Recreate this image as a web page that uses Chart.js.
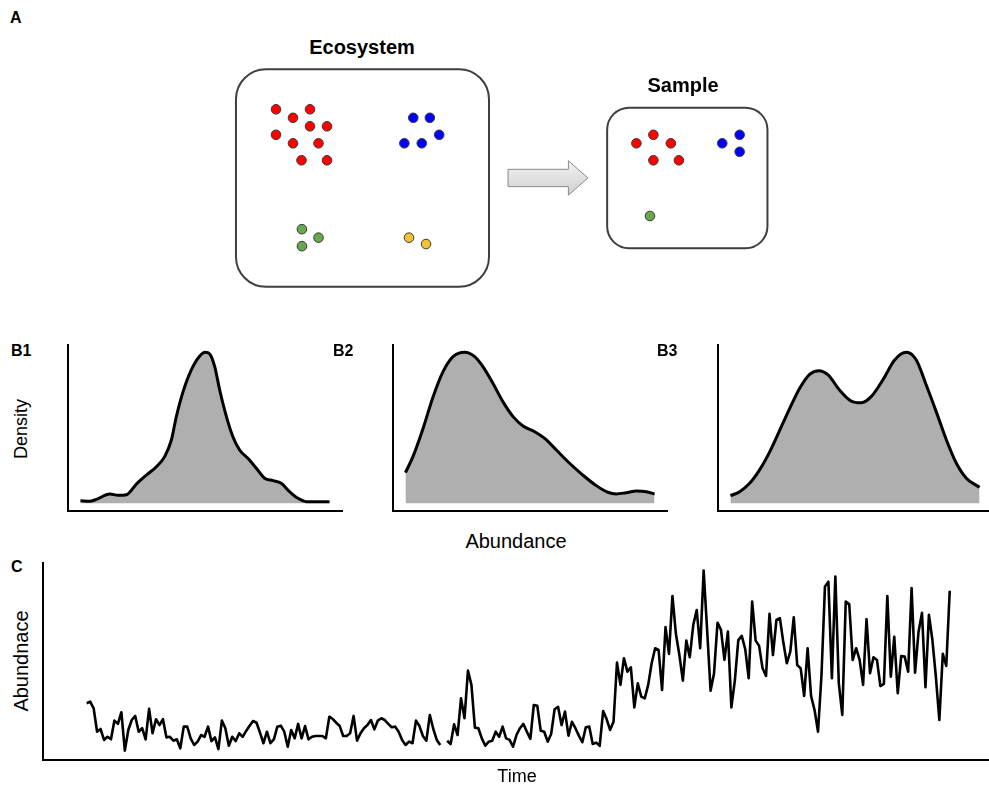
<!DOCTYPE html>
<html>
<head>
<meta charset="utf-8">
<script src="https://cdn.jsdelivr.net/npm/chart.js@4.4.1/dist/chart.umd.min.js"></script>
<style>
  html, body { margin: 0; padding: 0; background: #fff; overflow: hidden; }
  #fig { position: relative; width: 989px; height: 789px; font-family: "Liberation Sans", Arial, sans-serif; color: #000; }
  canvas { position: absolute; }
  .t { position: absolute; line-height: 1; white-space: nowrap; }
  .b { font-weight: bold; }
  .c { transform: translate(-50%, -50%); }
  .r { transform: translate(-50%, -50%) rotate(-90deg); }
</style>
</head>
<body>
<div id="fig">
  <canvas id="cA"  width="553" height="247" style="left:225px;top:58px"></canvas>
  <canvas id="cB1" width="294" height="186" style="left:58px;top:335px"></canvas>
  <canvas id="cB2" width="294" height="186" style="left:383px;top:335px"></canvas>
  <canvas id="cB3" width="294" height="186" style="left:708px;top:335px"></canvas>
  <canvas id="cC"  width="966" height="217" style="left:33px;top:553px"></canvas>

  <div class="t b" style="left:10px;top:10px;font-size:16px">A</div>
  <div class="t b c" style="left:362px;top:47px;font-size:20px">Ecosystem</div>
  <div class="t b c" style="left:683px;top:85px;font-size:20px">Sample</div>

  <div class="t b" style="left:11px;top:343px;font-size:16px">B1</div>
  <div class="t b" style="left:333px;top:343px;font-size:16px">B2</div>
  <div class="t b" style="left:657px;top:343px;font-size:16px">B3</div>
  <div class="t r" style="left:21px;top:429px;font-size:18px">Density</div>
  <div class="t c" style="left:516px;top:541px;font-size:20px">Abundance</div>

  <div class="t b" style="left:11px;top:559px;font-size:16px">C</div>
  <div class="t r" style="left:21px;top:661px;font-size:20px">Abundnace</div>
  <div class="t c" style="left:517px;top:776px;font-size:18px">Time</div>
</div>

<script>
// ---------- Panel A: individuals per species, [x, y] in layout grid units ----------
const ecoRed    = [[5, 5], [7, 6], [9, 5], [9, 7], [11, 7], [5, 8], [7, 9], [10, 9], [8, 11], [11, 11]];
const ecoBlue   = [[21.15, 6], [23.1, 6], [24.2, 8], [20.1, 9], [22.15, 9]];
const ecoGreen  = [[8.05, 19.1], [10, 20.1], [8.05, 21.1]];
const ecoYellow = [[20.65, 20.1], [22.65, 20.85]];
const smpRed    = [[47.4, 9], [49.4, 8], [51.45, 9], [49.4, 11], [52.4, 11]];
const smpBlue   = [[57.5, 9], [59.55, 8], [59.55, 10]];
const smpGreen  = [[49, 17.55]];

// ---------- Panel B: density curves (abundance 0-100, density scaled to peak 1) ----------
const b1Abund = [0, 3.7, 6.4, 11.8, 15.1, 18.5, 22.5, 26.5, 30.5, 33.8, 36.5, 38.5, 41.2, 44.5, 47.9, 50.1,
                 51.9, 53.9, 55.9, 58.6, 61.2, 63.9, 67.2, 70.6, 73.9, 77.3, 80.6, 83.9, 87.3, 90.7, 94.7, 100];
const b1Dens  = [0.017, 0.013, 0.026, 0.062, 0.053, 0.057, 0.128, 0.187, 0.242, 0.309, 0.419, 0.574, 0.739, 0.883, 0.975, 1.0,
                 0.989, 0.905, 0.75, 0.574, 0.441, 0.353, 0.298, 0.232, 0.166, 0.15, 0.132, 0.077, 0.033, 0.011, 0.011, 0.011];

const b2Abund = [0, 3.0, 7.1, 11.1, 15.1, 19.1, 23.8, 27.8, 31.1, 35.1, 39.1, 43.2, 47.2, 51.9, 55.9, 60.6,
                 65.9, 71.2, 76.6, 81.3, 84.6, 88.6, 92.7, 96.7, 100];
const b2Dens  = [0.203, 0.309, 0.497, 0.706, 0.872, 0.971, 1.0, 0.971, 0.905, 0.795, 0.673, 0.574, 0.512, 0.474, 0.43, 0.353,
                 0.265, 0.187, 0.117, 0.073, 0.062, 0.07, 0.081, 0.077, 0.062];

const b3Abund = [0, 3.7, 7.7, 11.7, 15.8, 19.8, 23.8, 27.8, 31.8, 35.5, 39.2, 43.8, 48.5, 52.5, 56.5, 61.2,
                 65.9, 70.6, 74.6, 78.6, 82.6, 86.7, 90.7, 94.7, 100];
const b3Dens  = [0.05, 0.077, 0.132, 0.221, 0.342, 0.485, 0.629, 0.762, 0.854, 0.878, 0.85, 0.75, 0.677, 0.666, 0.706, 0.817,
                 0.949, 1.0, 0.949, 0.783, 0.607, 0.419, 0.265, 0.166, 0.106];

// ---------- Panel C: abundance over time, two recorded stretches with a gap between ----------
const timeSeg1 = [
  29.1, 29.9, 26.5, 14.5, 15.9, 10.3, 11.9, 10.6, 20.2, 18.5,
  24.5, 4.8, 15.4, 20.5, 22.6, 14.5, 16.3, 10.6, 26.2, 13.7,
  20.9, 17.9, 20.9, 11.6, 11.9, 9.9, 10.6, 6.0, 17.1, 17.1,
  11.1, 7.7, 9.4, 12.8, 11.9, 17.1, 9.7, 11.6, 5.6, 20.2,
  16.3, 7.3, 11.9, 9.7, 13.7, 11.9, 14.9, 17.6, 20.0, 19.1,
  14.0, 8.6, 14.5, 8.6, 10.6, 17.1, 17.6,
  14.5, 6.8, 15.4, 11.1, 18.5, 11.1, 17.4, 10.6, 11.9, 12.3,
  12.3, 12.3, 11.1, 22.2, 21.0, 19.1, 17.4, 12.3, 12.3, 13.7,
  22.6, 9.9, 13.7, 16.3, 17.9, 20.5, 15.7, 20.2, 21.4, 20.5,
  18.5, 16.8, 17.1, 14.5, 10.3, 7.7, 9.4, 8.6, 20.2, 17.4,
  12.3, 9.9, 23.1, 15.9, 10.3, 7.7
];
const timeSeg2 = [
  9.9, 8.2, 18.3, 12.8, 31.6, 21.4, 45.8, 38.5, 16.6, 16.3,
  11.1, 7.3, 9.4, 9.9, 14.5, 11.9, 17.1, 11.1, 10.3, 6.8,
  12.8, 16.3, 18.5, 14.5, 10.8, 28.2, 27.8, 15.0, 14.5, 9.4,
  13.3, 26.0, 27.3, 17.9, 24.8, 12.5, 19.6, 16.3, 12.5, 9.1,
  16.8, 17.1, 8.2, 8.9, 7.3, 25.1, 21.0, 15.4, 19.6, 49.9,
  38.5, 52.2, 45.3, 47.5, 27.0, 39.3,
  32.5, 31.6, 38.5, 49.6, 57.3, 56.4, 35.9, 68.1, 54.4, 84.1,
  64.6, 53.8, 40.7, 61.2, 52.7, 69.2, 76.9, 57.3, 97.1, 66.7,
  35.5, 44.5, 70.4, 66.7, 51.3, 65.8, 27.0, 40.7, 61.5, 63.6,
  56.8, 41.9, 81.2, 61.2, 58.5, 47.0, 43.1, 74.9, 53.8, 71.8,
  72.7,
  60.2, 49.6, 55.5, 73.2, 48.7, 47.0, 32.8, 57.3, 32.8, 25.6,
  14.5, 43.6, 88.9, 91.4, 41.9, 94.0, 39.3, 23.1, 81.2, 80.0,
  51.3, 57.3, 51.3, 38.5, 72.2, 44.5, 52.7, 51.3, 37.9, 39.0,
  84.1, 42.7, 63.2, 34.2, 53.3, 53.0, 45.3, 88.1, 44.8, 65.8,
  75.5, 37.3, 74.4, 61.5, 42.7, 20.5, 54.4, 48.2, 86.8
];

// ---------- shared settings ----------
Chart.defaults.font.family = '"Liberation Sans", Arial, sans-serif';
const base = {
  responsive: false,
  animation: false,
  devicePixelRatio: 1,
  events: [],
  plugins: { legend: { display: false }, tooltip: { enabled: false }, title: { display: false } }
};

// plain black axis lines, no ticks or labels
function bareAxis(min, max) {
  return {
    type: 'linear', min, max,
    grid: { display: false, drawTicks: false },
    ticks: { display: false },
    border: { display: true, color: '#000', width: 2 }
  };
}

// ---------- Panel A ----------
const sketchLayout = {
  boxes: [
    { x0: 0.29, y0: 0.29, x1: 30.06, y1: 25.87, r: 30 },
    { x0: 43.96, y0: 4.81, x1: 62.82, y1: 21.35, r: 22 }
  ],
  arrow: { x0: 32.3, xh: 39.4, x1: 41.7, yc: 13.08, body: 1.02, head: 2.02 }
};

function roundedRect(ctx, l, t, r, b, rad) {
  ctx.beginPath();
  ctx.moveTo(l + rad, t);
  ctx.lineTo(r - rad, t);
  ctx.arcTo(r, t, r, t + rad, rad);
  ctx.lineTo(r, b - rad);
  ctx.arcTo(r, b, r - rad, b, rad);
  ctx.lineTo(l + rad, b);
  ctx.arcTo(l, b, l, b - rad, rad);
  ctx.lineTo(l, t + rad);
  ctx.arcTo(l, t, l + rad, t, rad);
  ctx.closePath();
}

const sketchFrames = {
  id: 'sketchFrames',
  beforeDatasetsDraw(chart) {
    const { ctx, scales: { x, y } } = chart;
    const px = v => x.getPixelForValue(v);
    const py = v => y.getPixelForValue(v);
    ctx.save();
    ctx.lineWidth = 2;
    ctx.strokeStyle = '#3f3f3f';
    for (const bx of sketchLayout.boxes) {
      roundedRect(ctx, px(bx.x0), py(bx.y0), px(bx.x1), py(bx.y1), bx.r);
      ctx.fillStyle = '#fff';
      ctx.fill();
      ctx.stroke();
    }
    const a = sketchLayout.arrow;
    const top = py(a.yc - a.head), bot = py(a.yc + a.head);
    ctx.beginPath();
    ctx.moveTo(px(a.x0), py(a.yc - a.body));
    ctx.lineTo(px(a.xh), py(a.yc - a.body));
    ctx.lineTo(px(a.xh), top);
    ctx.lineTo(px(a.x1), py(a.yc));
    ctx.lineTo(px(a.xh), bot);
    ctx.lineTo(px(a.xh), py(a.yc + a.body));
    ctx.lineTo(px(a.x0), py(a.yc + a.body));
    ctx.closePath();
    const g = ctx.createLinearGradient(0, top, 0, bot);
    g.addColorStop(0, '#f2f2f2');
    g.addColorStop(1, '#cfcfcf');
    ctx.fillStyle = g;
    ctx.fill();
    ctx.lineWidth = 1;
    ctx.strokeStyle = '#8a8a8a';
    ctx.stroke();
    ctx.restore();
  }
};

function dots(label, pts, color) {
  return {
    label,
    data: pts.map(([x, y]) => ({ x, y })),
    pointRadius: 4.8,
    pointBorderWidth: 1,
    pointBackgroundColor: color,
    pointBorderColor: '#3a3a3a',
    showLine: false
  };
}

new Chart(document.getElementById('cA'), {
  type: 'scatter',
  data: {
    datasets: [
      dots('Ecosystem red', ecoRed, '#ff0000'),
      dots('Ecosystem blue', ecoBlue, '#0000ff'),
      dots('Ecosystem green', ecoGreen, '#6aa84f'),
      dots('Ecosystem yellow', ecoYellow, '#f1c232'),
      dots('Sample red', smpRed, '#ff0000'),
      dots('Sample blue', smpBlue, '#0000ff'),
      dots('Sample green', smpGreen, '#6aa84f')
    ]
  },
  options: Object.assign({}, base, {
    layout: { padding: 0, autoPadding: false },
    scales: {
      x: { type: 'linear', display: false, min: -1.0, max: 64.06 },
      y: { type: 'linear', display: false, min: -1.035, max: 28.02, reverse: true }
    }
  }),
  plugins: [sketchFrames]
});

// ---------- Panel B ----------
function densityChart(id, abund, dens, label) {
  return new Chart(document.getElementById(id), {
    type: 'line',
    data: {
      datasets: [{
        label,
        data: abund.map((a, i) => ({ x: a, y: dens[i] })),
        fill: 'origin',
        backgroundColor: '#afafaf',
        borderColor: '#000',
        borderWidth: 3,
        pointRadius: 0,
        cubicInterpolationMode: 'monotone',
        tension: 0.4
      }]
    },
    options: Object.assign({}, base, {
      layout: { padding: { left: 10, top: 10, right: 10, bottom: 10 }, autoPadding: false },
      scales: { x: bareAxis(-5, 105), y: bareAxis(-0.051, 1.048) }
    })
  });
}
densityChart('cB1', b1Abund, b1Dens, 'B1');
densityChart('cB2', b2Abund, b2Dens, 'B2');
densityChart('cB3', b3Abund, b3Dens, 'B3');

// ---------- Panel C ----------
const seriesC = [...timeSeg1, null, ...timeSeg2];
new Chart(document.getElementById('cC'), {
  type: 'line',
  data: {
    datasets: [{
      label: 'Abundance',
      data: seriesC.map((v, i) => ({ x: i, y: v })),
      borderColor: '#000',
      borderWidth: 2.6,
      borderJoinStyle: 'round',
      pointRadius: 0,
      tension: 0,
      spanGaps: false,
      fill: false
    }]
  },
  options: Object.assign({}, base, {
    layout: { padding: { left: 10, top: 10, right: 10, bottom: 10 }, autoPadding: false },
    scales: { x: bareAxis(-12.61, 260.33), y: bareAxis(0, 101) }
  })
});
</script>
</body>
</html>
